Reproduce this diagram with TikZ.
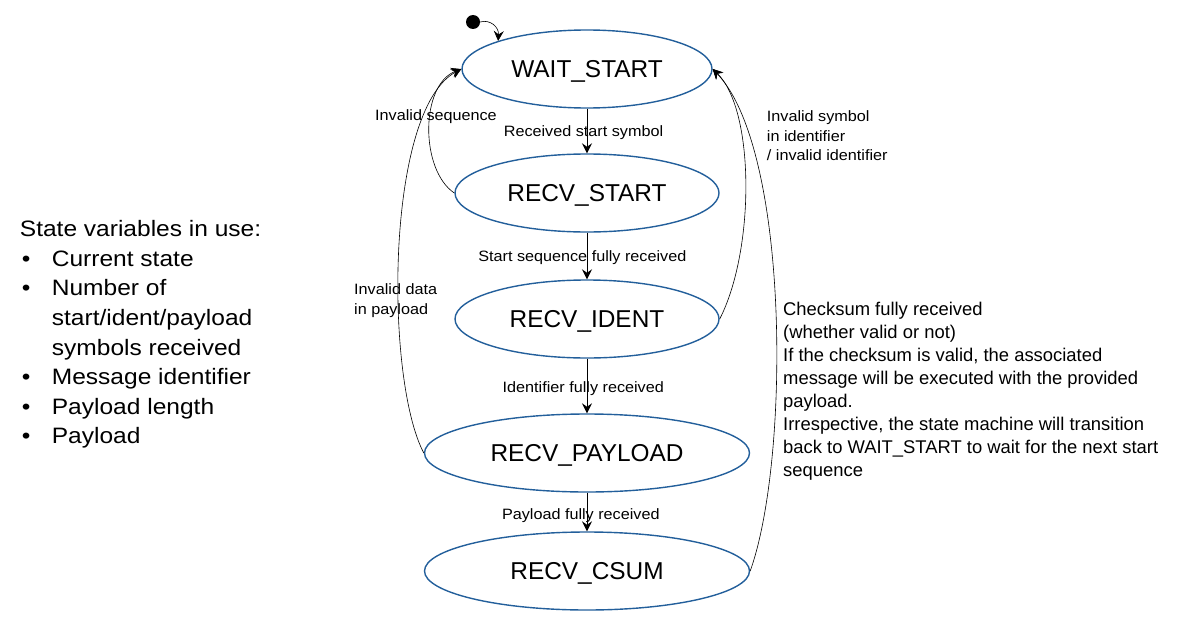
\documentclass[tikz,border=0pt]{standalone}
\usepackage{fontspec}
\setmainfont{Liberation Sans}
\newfontfamily\lblfont{Liberation Sans}[FakeStretch=1.08]
\newfontfamily\listfont{Liberation Sans}[FakeStretch=1.1]
\usetikzlibrary{shapes.geometric,arrows.meta}
\definecolor{stateblue}{RGB}{35,95,155}
\tikzset{
  state/.style={ellipse,draw=stateblue,line width=1.4pt,inner sep=0pt,minimum height=78pt,text depth=0pt,font=\fontsize{24.4}{28}\selectfont},
  tip/.style={-{Stealth[length=10pt,width=10pt,inset=3.5pt]}},
  flow/.style={draw=black,line width=0.9pt,tip},
  back/.style={draw=black,line width=0.6pt,tip},
  lbl/.style={font=\lblfont\fontsize{15}{20}\selectfont,inner sep=0pt,anchor=base west},
  lblc/.style={font=\lblfont\fontsize{15}{20}\selectfont,inner sep=0pt,anchor=base},
  listtxt/.style={font=\listfont\fontsize{22.3}{29.7}\selectfont,inner sep=0pt,anchor=base west},
  notetxt/.style={font=\fontsize{18.4}{23.1}\selectfont,inner sep=0pt,anchor=base west},
}
\begin{document}
\begin{tikzpicture}[x=1pt,y=-1pt]
\useasboundingbox (0,0) rectangle (1198,626);
% states
\node[state,minimum width=250pt] (w) at (587,69) {WAIT\_START};
\node[state,minimum width=264pt] (s) at (587,193) {RECV\_START};
\node[state,minimum width=264pt] (i) at (587,319) {RECV\_IDENT};
\node[state,minimum width=325pt] (p) at (587,453) {RECV\_PAYLOAD};
\node[state,minimum width=325pt] (c) at (587,571) {RECV\_CSUM};
% initial
\node[circle,fill=black,inner sep=0pt,minimum size=14pt] (dot) at (473,22) {};
\draw[back] (dot.east) .. controls (490,19) and (499,27) .. (w.north west);
% forward transitions
\draw[flow] (w) -- (s);
\draw[flow] (s) -- (i);
\draw[flow] (i) -- (p);
\draw[flow] (p) -- (c);
% back transitions
\draw[back] (s.west) .. controls (420,170) and (420,85) .. (w.west);
\draw[back] (p.west) .. controls (385,380) and (385,110) .. (w.west);
\draw[back] (i.east) .. controls (755,250) and (755,110) .. (w.east);
\draw[back] (c.east) .. controls (790,460) and (790,150) .. (w.east);
% labels
\node[lblc] (l1) at (583.5,136) {Received start symbol};
\node[lblc] (l2) at (582.3,261.7) {Start sequence fully received};
\node[lblc] (l3) at (583.3,392) {Identifier fully received};
\node[lblc] (l4) at (580.8,519) {Payload fully received};
\node[lbl] (l5) at (375,120) {Invalid sequence};
\node[lbl] (l6a) at (354,294.3) {Invalid data};
\node[lbl] (l6b) at (354,314) {in payload};
\node[lbl] (l7a) at (766.7,121.7) {Invalid symbol};
\node[lbl] (l7b) at (766.7,141.3) {in identifier};
\node[lbl] (l7c) at (766.7,160.7) {/ invalid identifier};
% right note
\foreach \t [count=\k] in {{Checksum fully received},{(whether valid or not)},{If the checksum is valid, the associated},{message will be executed with the provided},{payload.},{Irrespective, the state machine will transition},{back to WAIT\_START to wait for the next start},{sequence}}
  \node[notetxt] (n\k) at (783,315+23.1*\k-23.1) {\t};
% left list
\node[listtxt] (v0) at (19.7,236.7) {State variables in use:};
\foreach \t [count=\k] in {{\makebox[32pt][l]{\hspace{2pt}•}Current state},{\makebox[32pt][l]{\hspace{2pt}•}Number of},{\hspace*{32pt}start/ident/payload},{\hspace*{32pt}symbols received},{\makebox[32pt][l]{\hspace{2pt}•}Message identifier},{\makebox[32pt][l]{\hspace{2pt}•}Payload length},{\makebox[32pt][l]{\hspace{2pt}•}Payload}}
  \node[listtxt] (v\k) at (19.7,236.7+29.6*\k) {\t};
\end{tikzpicture}
\end{document}
